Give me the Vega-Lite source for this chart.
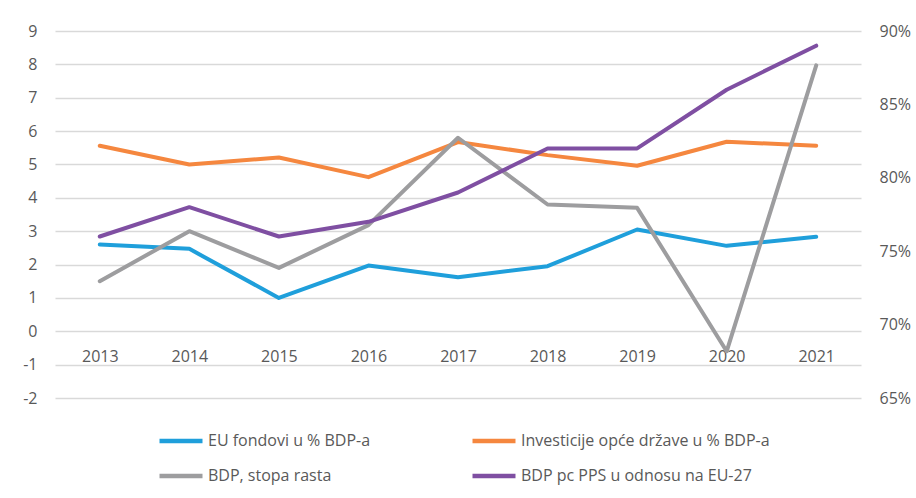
{
  "$schema": "https://vega.github.io/schema/vega-lite/v6.json",
  "width": 806,
  "height": 367,
  "autosize": "none",
  "padding": {"left": 55, "top": 31, "right": 55, "bottom": 100},
  "background": "white",
  "config": {
    "font": "Open Sans",
    "view": {"stroke": null},
    "axis": {"labelColor": "#595959", "labelFont": "Open Sans", "labelFontSize": 16, "domain": false, "ticks": false, "gridColor": "#d9d9d9", "gridWidth": 1.3}
  },
  "data": {"values": [
    {"year": "2013", "series": "EU fondovi u % BDP-a", "v": 2.6},
    {"year": "2014", "series": "EU fondovi u % BDP-a", "v": 2.47},
    {"year": "2015", "series": "EU fondovi u % BDP-a", "v": 1.0},
    {"year": "2016", "series": "EU fondovi u % BDP-a", "v": 1.97},
    {"year": "2017", "series": "EU fondovi u % BDP-a", "v": 1.62},
    {"year": "2018", "series": "EU fondovi u % BDP-a", "v": 1.95},
    {"year": "2019", "series": "EU fondovi u % BDP-a", "v": 3.05},
    {"year": "2020", "series": "EU fondovi u % BDP-a", "v": 2.56},
    {"year": "2021", "series": "EU fondovi u % BDP-a", "v": 2.83},
    {"year": "2013", "series": "Investicije opće države u % BDP-a", "v": 5.56},
    {"year": "2014", "series": "Investicije opće države u % BDP-a", "v": 5.0},
    {"year": "2015", "series": "Investicije opće države u % BDP-a", "v": 5.21},
    {"year": "2016", "series": "Investicije opće države u % BDP-a", "v": 4.62},
    {"year": "2017", "series": "Investicije opće države u % BDP-a", "v": 5.67},
    {"year": "2018", "series": "Investicije opće države u % BDP-a", "v": 5.28},
    {"year": "2019", "series": "Investicije opće države u % BDP-a", "v": 4.96},
    {"year": "2020", "series": "Investicije opće države u % BDP-a", "v": 5.68},
    {"year": "2021", "series": "Investicije opće države u % BDP-a", "v": 5.56},
    {"year": "2013", "series": "BDP, stopa rasta", "v": 1.5},
    {"year": "2014", "series": "BDP, stopa rasta", "v": 3.0},
    {"year": "2015", "series": "BDP, stopa rasta", "v": 1.9},
    {"year": "2016", "series": "BDP, stopa rasta", "v": 3.18},
    {"year": "2017", "series": "BDP, stopa rasta", "v": 5.8},
    {"year": "2018", "series": "BDP, stopa rasta", "v": 3.8},
    {"year": "2019", "series": "BDP, stopa rasta", "v": 3.7},
    {"year": "2020", "series": "BDP, stopa rasta", "v": -0.6},
    {"year": "2021", "series": "BDP, stopa rasta", "v": 7.97},
    {"year": "2013", "series": "BDP pc PPS u odnosu na EU-27", "p": 0.76},
    {"year": "2014", "series": "BDP pc PPS u odnosu na EU-27", "p": 0.78},
    {"year": "2015", "series": "BDP pc PPS u odnosu na EU-27", "p": 0.76},
    {"year": "2016", "series": "BDP pc PPS u odnosu na EU-27", "p": 0.77},
    {"year": "2017", "series": "BDP pc PPS u odnosu na EU-27", "p": 0.79},
    {"year": "2018", "series": "BDP pc PPS u odnosu na EU-27", "p": 0.82},
    {"year": "2019", "series": "BDP pc PPS u odnosu na EU-27", "p": 0.82},
    {"year": "2020", "series": "BDP pc PPS u odnosu na EU-27", "p": 0.86},
    {"year": "2021", "series": "BDP pc PPS u odnosu na EU-27", "p": 0.89}
  ]},
  "encoding": {
    "x": {"field": "year", "type": "ordinal", "scale": {"type": "point", "padding": 0.5},
      "axis": {"title": null, "labelAngle": 0, "grid": false, "offset": -67, "labelPadding": 17}},
    "color": {"field": "series", "type": "nominal",
      "scale": {"domain": ["EU fondovi u % BDP-a", "Investicije opće države u % BDP-a", "BDP, stopa rasta", "BDP pc PPS u odnosu na EU-27"],
                "range": ["#1f9fdb", "#f5873f", "#9d9d9f", "#7f4fa2"]},
      "legend": {"title": null, "orient": "none", "legendX": 113, "legendY": 397, "direction": "horizontal", "columns": 2, "symbolType": "M-2,0H2", "symbolSize": 462, "symbolStrokeWidth": 4.5, "labelFontSize": 16, "labelColor": "#595959", "labelFont": "Open Sans", "columnPadding": 92, "rowPadding": 13, "labelOffset": 14, "labelLimit": 400}}
  },
  "layer": [
    {
      "transform": [{"filter": "datum.v != null"}],
      "mark": {"type": "line", "strokeWidth": 4, "strokeCap": "round", "strokeJoin": "round"},
      "encoding": {
        "y": {"field": "v", "type": "quantitative", "scale": {"domain": [-2, 9], "nice": false},
          "axis": {"title": null, "values": [-2, -1, 0, 1, 2, 3, 4, 5, 6, 7, 8, 9], "labelExpr": "toString(datum.value)", "labelPadding": 18}}
      }
    },
    {
      "transform": [{"filter": "datum.p != null"}],
      "mark": {"type": "line", "strokeWidth": 4, "strokeCap": "round", "strokeJoin": "round"},
      "encoding": {
        "y": {"field": "p", "type": "quantitative", "scale": {"domain": [0.65, 0.9], "nice": false},
          "axis": {"title": null, "orient": "right", "values": [0.65, 0.7, 0.75, 0.8, 0.85, 0.9], "format": ".0%", "grid": false, "labelPadding": 18}}
      }
    }
  ],
  "resolve": {"scale": {"y": "independent"}}
}
